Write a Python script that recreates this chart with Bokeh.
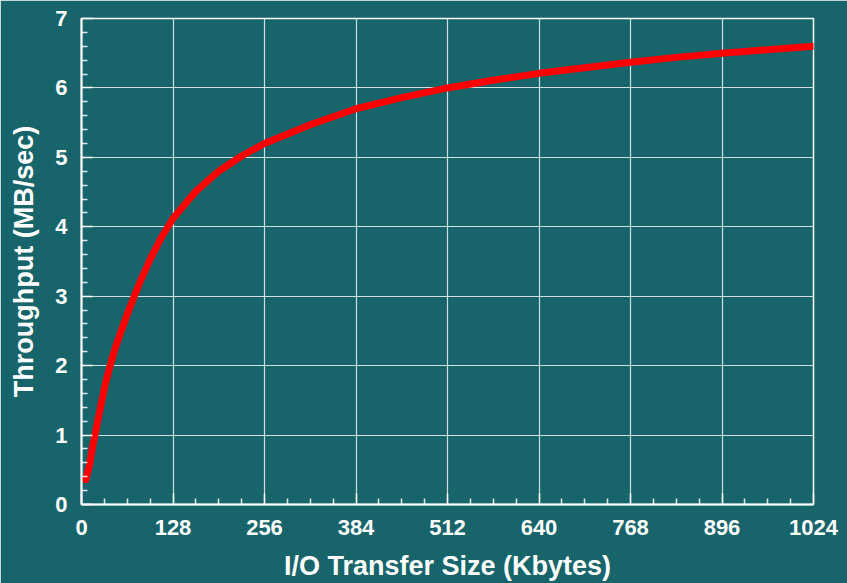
from bokeh.plotting import figure
from bokeh.models import FixedTicker, Range1d
from bokeh.embed import file_html
from bokeh.resources import INLINE

# Data
transfer_kb = [6, 11, 15, 20, 26, 33, 40, 48, 64, 80, 96, 112, 128, 160, 192, 224,
               256, 320, 384, 448, 512, 576, 640, 704, 768, 832, 896, 960, 1024]
throughput_mb = [0.36, 0.56, 0.80, 1.06, 1.37, 1.72, 2.0, 2.28, 2.74, 3.16, 3.53, 3.85, 4.12,
                 4.51, 4.80, 5.02, 5.20, 5.47, 5.70, 5.86, 6.00, 6.11, 6.21, 6.29, 6.37,
                 6.44, 6.50, 6.55, 6.60]

x_major = [0, 128, 256, 384, 512, 640, 768, 896, 1024]
x_minor = [32 * i for i in range(33) if (32 * i) % 128 != 0]
y_major = [0, 1, 2, 3, 4, 5, 6, 7]
y_minor = [round(0.2 * i, 1) for i in range(36) if i % 5 != 0]

BG = "#17646b"
FONT = "Liberation Sans"

p = figure(width=847, height=583, output_backend="svg", toolbar_location=None,
           x_range=Range1d(0, 1024), y_range=Range1d(0, 7),
           min_border_left=81, min_border_right=34, min_border_top=18, min_border_bottom=78)

p.background_fill_color = BG
p.border_fill_color = BG
p.outline_line_color = "white"
p.outline_line_width = 1.5

p.xaxis.ticker = FixedTicker(ticks=x_major, minor_ticks=x_minor)
p.yaxis.ticker = FixedTicker(ticks=y_major, minor_ticks=y_minor)

for ax in (p.xaxis, p.yaxis):
    ax.axis_line_color = "white"
    ax.axis_line_width = 2
    ax.major_tick_line_color = "white"
    ax.major_tick_line_width = 1.5
    ax.major_tick_in = 11
    ax.major_tick_out = 0
    ax.minor_tick_line_color = "white"
    ax.minor_tick_line_alpha = 0.85
    ax.minor_tick_line_width = 1.5
    ax.minor_tick_in = 6
    ax.minor_tick_out = 0
    ax.major_label_text_color = "white"
    ax.major_label_text_font = FONT
    ax.major_label_text_font_style = "bold"
    ax.major_label_text_font_size = "22px"
    ax.axis_label_text_color = "white"
    ax.axis_label_text_font = FONT
    ax.axis_label_text_font_style = "bold"
    ax.axis_label_text_font_size = "27px"

p.xaxis.major_label_standoff = 15
p.yaxis.major_label_standoff = 14
p.xaxis.axis_label = "I/O Transfer Size (Kbytes)"
p.yaxis.axis_label = "Throughput (MB/sec)"
p.xaxis.axis_label_standoff = 13
p.yaxis.axis_label_standoff = 13

p.xgrid.ticker = FixedTicker(ticks=x_major)
p.ygrid.ticker = FixedTicker(ticks=y_major)
for g in (p.xgrid, p.ygrid):
    g.grid_line_color = "white"
    g.grid_line_alpha = 0.8
    g.grid_line_width = 1.2

p.line(transfer_kb, throughput_mb, line_color="#ff0000", line_width=7,
       line_cap="round", line_join="round")

html = file_html(p, INLINE)
html = html.replace("<body>", '<body style="margin:0;background-color:%s;">' % BG, 1)
open("out.html", "w").write(html)
